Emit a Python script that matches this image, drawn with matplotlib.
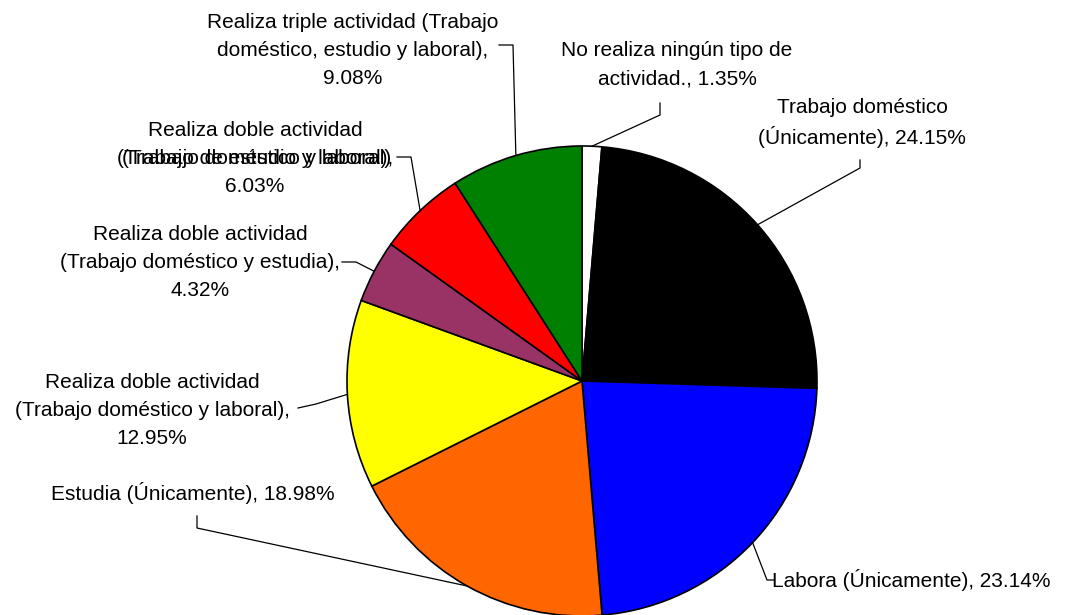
import numpy as np
import matplotlib.pyplot as plt

# Data (clockwise from 12 o'clock)
categories = [
    "No realiza ningún tipo de\nactividad., 1.35%",
    "Trabajo doméstico\n(Únicamente), 24.15%",
    "Labora (Únicamente), 23.14%",
    "Estudia (Únicamente), 18.98%",
    "Realiza doble actividad\n(Trabajo doméstico y laboral),\n12.95%",
    "Realiza doble actividad\n(Trabajo doméstico y estudia),\n4.32%",
    "Realiza doble actividad\n(Trabajo de estudio y laboral),\n6.03%",
    "Realiza triple actividad (Trabajo\ndoméstico, estudio y laboral),\n9.08%",
]
values = [1.35, 24.15, 23.14, 18.98, 12.95, 4.32, 6.03, 9.08]
colors = ['#FFFFFF', '#000000', '#0000FF', '#FF6600', '#FFFF00',
          '#993366', '#FF0000', '#008000']

W, H = 1077, 615
fig = plt.figure(figsize=(W / 100, H / 100), dpi=100)
ax = fig.add_axes([0, 0, 1, 1])

family = ['Liberation Sans', 'DejaVu Sans']
fsize = 15

cx, cy, r = 582, H - 381, 235
ax.pie(values, colors=colors, startangle=90, counterclock=False,
       center=(cx, cy), radius=r, frame=True,
       wedgeprops=dict(edgecolor='black', linewidth=1.2))
ax.set_xlim(0, W)
ax.set_ylim(0, H)
ax.set_aspect('equal')
ax.axis('off')

# label text centre (px), leader path points (px, screen coords) before the wedge
label_pos = [
    (677, 65), (862, 123), (911, 580), (193, 493),
    (152, 411), (200, 262), (255, 158), (353, 51),
]
spacing = [1.65, 1.45, 1.2, 1.2, 1.6, 1.6, 1.6, 1.6]
leader_pts = [
    [(660, 103), (660, 115)],
    [(860, 160), (860, 168)],
    [(774, 580), (767, 580)],
    [(197, 516), (197, 528)],
    [(298, 408), (316, 404)],
    [(342, 262), (356, 262)],
    [(397, 157), (411, 157)],
    [(499, 45), (513, 45)],
]

cum = np.cumsum([0] + values[:-1])
for i, (lab, v) in enumerate(zip(categories, values)):
    mid = np.deg2rad(90 - 360 * (cum[i] + v / 2) / 100)
    ex, ey = cx + r * np.cos(mid), cy + r * np.sin(mid)
    pts = [(x, H - y) for x, y in leader_pts[i]] + [(ex, ey)]
    ax.plot([p[0] for p in pts], [p[1] for p in pts], color='black', lw=0.9)
    tx, ty = label_pos[i]
    ax.text(tx, H - ty, lab, ha='center', va='center', fontsize=fsize,
            family=family, linespacing=spacing[i])

# overlapping label as in the original chart
ax.text(257, H - 158, "(Trabajo doméstico y laboral)", ha='center', va='center',
        fontsize=fsize, family=family)

plt.savefig('out.png', dpi=100)
